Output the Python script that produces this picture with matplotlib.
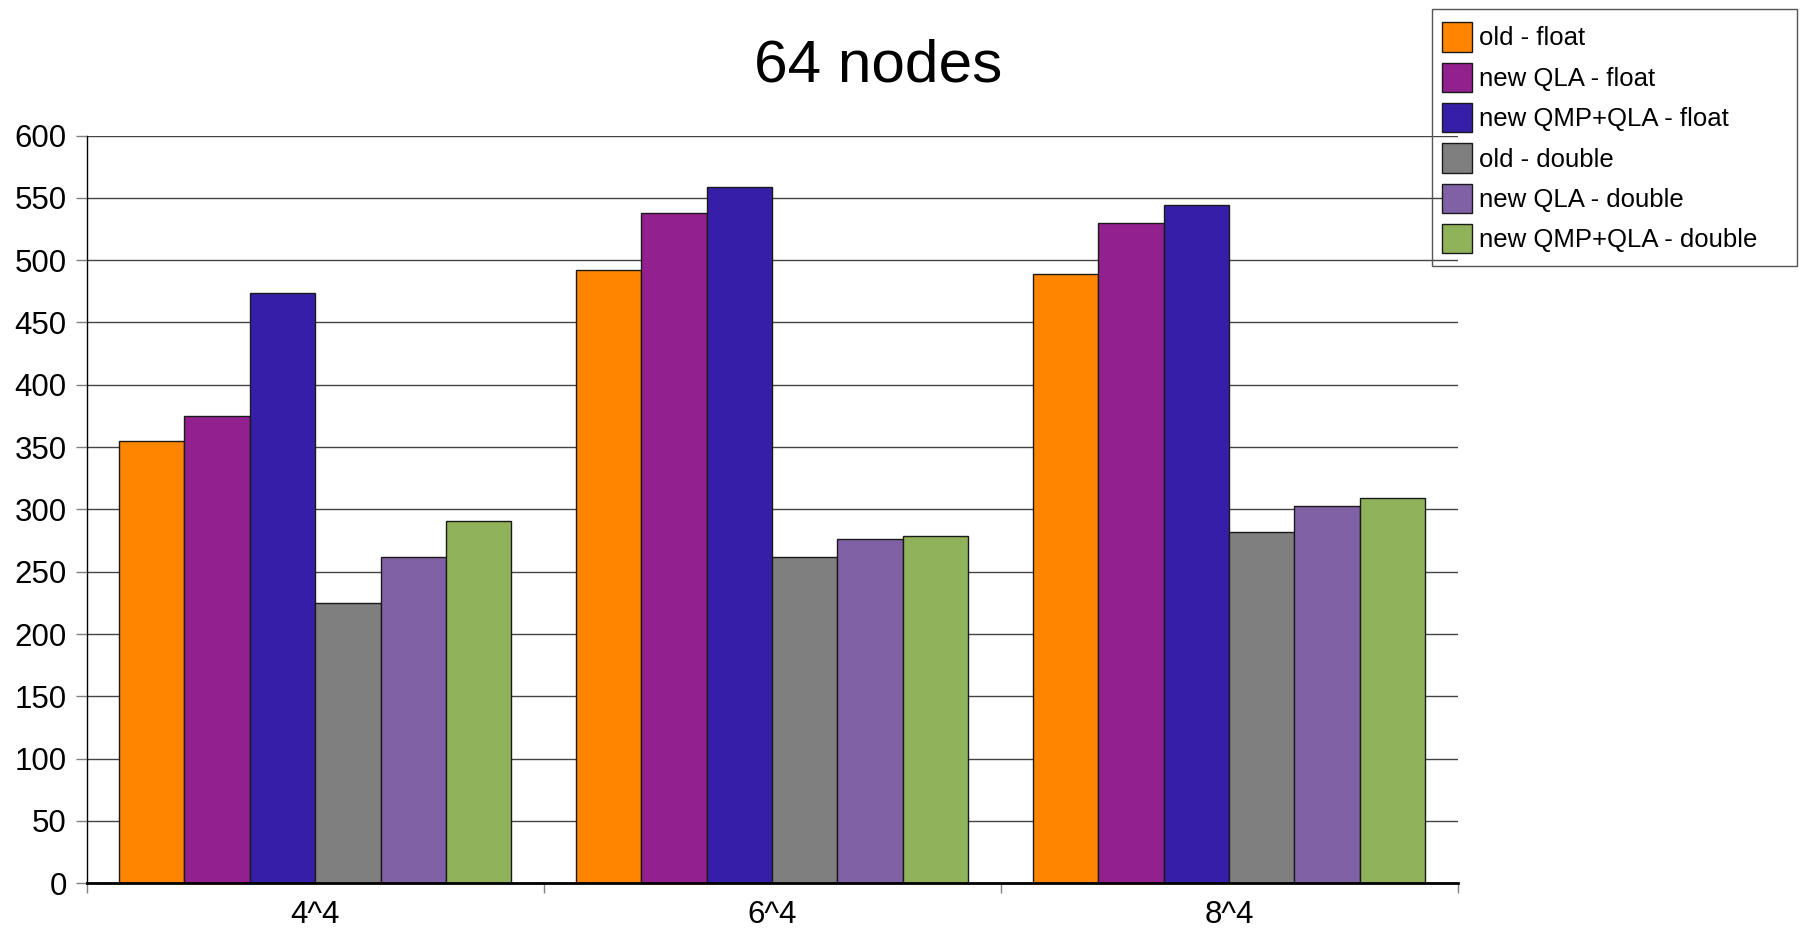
import matplotlib
matplotlib.use("Agg")
import matplotlib.pyplot as plt
from matplotlib.patches import Rectangle
import numpy as np

plt.rcParams["font.family"] = ["Liberation Sans", "DejaVu Sans"]

lattices = ["4^4", "6^4", "8^4"]
series = ["old - float", "new QLA - float", "new QMP+QLA - float",
          "old - double", "new QLA - double", "new QMP+QLA - double"]
old_float = [355, 492, 489]
qla_float = [375, 538, 530]
qmp_qla_float = [474, 559, 544]
old_double = [225, 262, 282]
qla_double = [262, 276, 303]
qmp_qla_double = [291, 279, 309]
values = [old_float, qla_float, qmp_qla_float, old_double, qla_double, qmp_qla_double]
colors = ["#ff8500", "#92208f", "#371ea8", "#7f7f7f", "#8061a5", "#8fb25a"]

W, H = 1801, 934
fig = plt.figure(figsize=(W / 100, H / 100), dpi=100)
ax = fig.add_axes([86.7 / W, 1 - 883.3 / H, (1457.5 - 86.7) / W, (883.3 - 135.5) / H])

x = np.arange(len(lattices))
width = 0.143
for i, (vals, c, name) in enumerate(zip(values, colors, series)):
    ax.bar(x + (i - 2.5) * width, vals, width, color=c, edgecolor="#1a1a1a",
           linewidth=1, label=name, zorder=3)

ax.set_xlim(-0.5, 2.5)
ax.set_ylim(0, 600)
ax.set_yticks(range(0, 601, 50))
ax.yaxis.grid(True, color="#444444", linewidth=1, zorder=0)

ax.set_xticks(x)
ax.set_xticklabels(lattices)
ax.set_xticks([-0.5, 0.5, 1.5, 2.5], minor=True)
ax.tick_params(axis="x", which="major", length=0, pad=12, labelsize=22.5)
ax.tick_params(axis="x", which="minor", length=7.5, width=1, color="#808080", direction="out")
ax.tick_params(axis="y", length=7.7, width=1, color="#808080", pad=6.7, labelsize=22.5)

for s in ["top", "right"]:
    ax.spines[s].set_visible(False)
ax.spines["left"].set_linewidth(1)
ax.spines["bottom"].set_linewidth(2)
ax.spines["bottom"].set_zorder(4)

fig.text(878.5 / W, 1 - 81.7 / H, "64 nodes", ha="center", va="baseline", fontsize=43.5)

# legend box with a fixed width, entries placed inside it
fig.patches.append(Rectangle((1431.7 / W, 1 - 265.7 / H), 365 / W, 256.7 / H,
                             transform=fig.transFigure, facecolor="none",
                             edgecolor="#555555", linewidth=1, zorder=5))
fig.legend(loc="upper left", bbox_to_anchor=(1431.7 / W, 1 - 11.5 / H),
           borderaxespad=0, fontsize=18.5, handlelength=1.14, handleheight=1.377,
           labelspacing=0.43, borderpad=0.42, handletextpad=0.3, frameon=False)

plt.savefig("out.png", dpi=100)
